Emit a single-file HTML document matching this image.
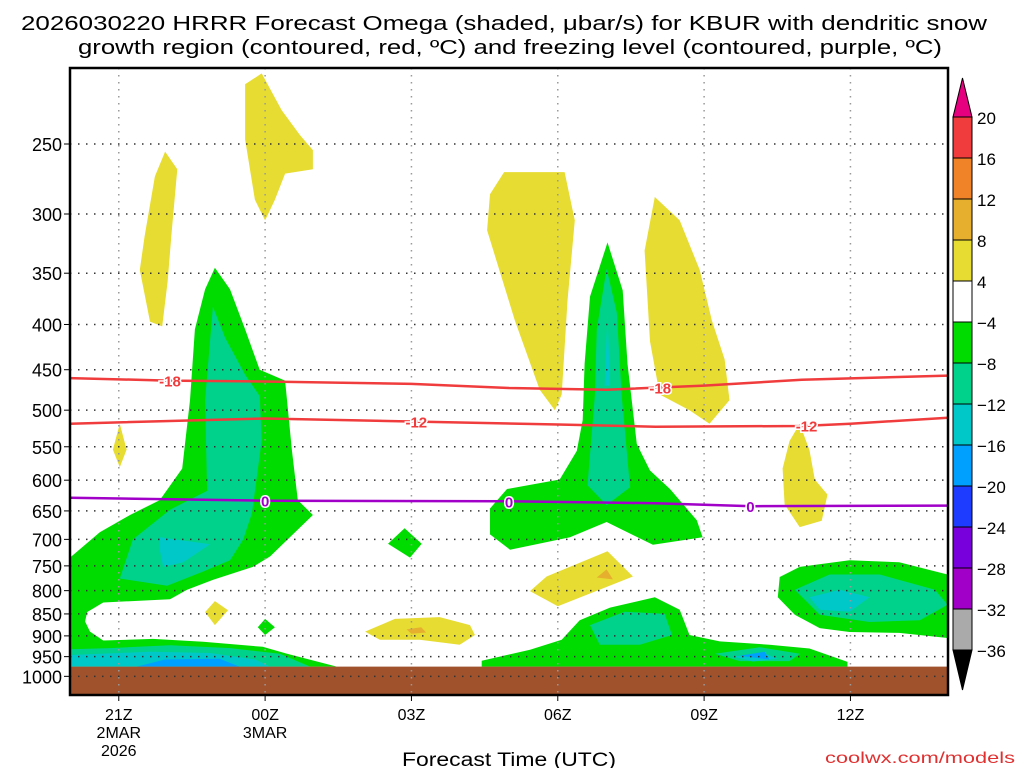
<!DOCTYPE html>
<html><head><meta charset="utf-8"><style>
html,body{margin:0;padding:0;background:#fff;}
svg{display:block;font-family:"Liberation Sans",sans-serif;}
</style></head><body>
<svg id="chart" width="1024" height="768" viewBox="0 0 1024 768" xmlns="http://www.w3.org/2000/svg">
<g font-size="20" text-anchor="middle" fill="#000">
<text x="504" y="30" textLength="966" lengthAdjust="spacingAndGlyphs">2026030220 HRRR Forecast Omega (shaded, μbar/s) for KBUR with dendritic snow</text>
<text x="510" y="54" textLength="864" lengthAdjust="spacingAndGlyphs">growth region (contoured, red, ºC) and freezing level (contoured, purple, ºC)</text>
</g>
<g id="plot"></g>
<g id="axes"></g>
<g id="cbar"></g>
<text x="509" y="766" font-size="19" text-anchor="middle" textLength="214" lengthAdjust="spacingAndGlyphs">Forecast Time (UTC)</text>
<text x="1015" y="763" font-size="16" text-anchor="end" fill="#e03030" textLength="190" lengthAdjust="spacingAndGlyphs">coolwx.com/models</text>
</svg>
<script>
// ---- data (hour since 20Z, pressure hPa) ----
const xTickHours = [1,4,7,10,13,16];
const xTickLabels = ["21Z","00Z","03Z","06Z","09Z","12Z"];
const yTickLevels = [250,300,350,400,450,500,550,600,650,700,750,800,850,900,950,1000];
const cbLevels = [20,16,12,8,4,-4,-8,-12,-16,-20,-24,-28,-32,-36];
const cbColors = ["#f03c3c","#f08228","#e6af2d","#e6dc32","#ffffff","#00dc00","#00d28c","#00c8c8","#00a0ff","#1e3cff","#7800dc","#a000c8","#aaaaaa"];
const terrainP = 975;
const snow18H = [0,2,4,7,9,11,13,15,18];
const snow18P = [460,463,464,467,472,474,469,462,457];
const snow12H = [0,4,7,10,12,15,16,18];
const snow12P = [518,511,515,519,522,521,518,510];
const frzH = [0,4,9,12,14,18];
const frzP = [628,633,634,637,642,641];
const yellowBlobs = [
 [[1.95,255],[2.2,267],[2.08,316],[2.0,358],[1.89,402],[1.64,397],[1.43,347],[1.53,318],[1.74,272]],
 [[3.59,214],[3.93,208],[4.34,229],[4.71,244],[4.98,254],[4.98,267],[4.41,270],[4.2,289],[4.0,305],[3.79,289],[3.59,247]],
 [[8.9,269],[10.14,269],[10.35,305],[10.2,376],[10.08,480],[9.94,500],[9.63,474],[9.12,396],[8.55,313],[8.61,285]],
 [[11.99,287],[12.5,305],[12.91,347],[13.16,396],[13.42,438],[13.52,487],[13.11,518],[12.7,500],[12.09,480],[11.89,418],[11.78,330]],
 [[1.02,518],[1.16,554],[1.02,580],[0.88,554]],
 [[14.96,518],[15.16,555],[15.27,599],[15.53,623],[15.41,667],[14.96,678],[14.65,639],[14.61,582],[14.75,542]],
 [[9.43,801],[10.0,833],[11.54,771],[11.02,722],[9.77,771]],
 [[6.05,890],[6.66,861],[7.58,857],[8.2,875],[8.3,898],[7.99,921],[7.17,909],[6.35,909]],
 [[2.97,822],[3.24,842],[2.97,875],[2.77,846]]
];
const orangeBlobs = [
 [[11.0,757],[11.13,777],[10.8,773]],
 [[6.9,885],[7.2,880],[7.3,892],[7.0,895]]
];
const greenBlobs = [
 [[0,734],[0.61,687],[1.23,657],[1.84,632],[2.30,582],[2.46,487],[2.56,405],[2.77,365],[2.97,345],[3.28,365],[3.59,405],[3.89,450],[4.41,463],[4.55,555],[4.67,632],[4.98,657],[4.10,732],[3.75,752],[2.93,778],[2.40,798],[2.05,818],[0.68,825],[0.35,846],[0.31,867],[0.41,890],[0.68,911],[1.70,907],[2.73,914],[3.95,926],[4.45,943],[5.47,975],[0,975]],
 [[4,861],[4.2,880],[4,898],[3.85,880]],
 [[6.86,680],[7.21,708],[6.97,734],[6.52,708]],
 [[11.02,323],[10.66,372],[10.55,443],[10.51,513],[10.39,556],[10.04,599],[8.96,614],[8.61,646],[8.61,691],[9.02,719],[10.25,696],[11.0,669],[11.95,710],[12.97,696],[12.85,666],[12.30,614],[11.89,585],[11.62,546],[11.43,443],[11.33,366]],
 [[8.44,960],[9.43,933],[10.08,909],[10.45,864],[11.07,836],[11.99,814],[12.5,841],[12.7,898],[13.32,913],[14.34,921],[15.16,930],[15.94,963],[15.94,975],[8.44,975]],
 [[14.55,772],[14.96,752],[15.98,739],[17.0,743],[17.99,767],[17.99,905],[17.0,893],[15.98,891],[15.37,882],[14.86,852],[14.51,814]]
];
const tealBlobs = [
 [[2.93,382],[3.18,414],[3.59,456],[3.89,482],[3.93,541],[3.73,654],[3.55,700],[3.28,739],[2.73,761],[1.99,790],[1.02,775],[1.29,700],[2.05,648],[2.81,617],[2.77,487]],
 [[0,932],[0.82,929],[2.05,922],[3.28,929],[4.30,943],[4.92,975],[0,975]],
 [[11.0,346],[10.8,405],[10.76,482],[10.61,608],[11.0,640],[11.48,611],[11.31,482],[11.21,388]],
 [[10.66,875],[11.37,845],[12.19,850],[12.34,898],[11.68,921],[10.86,921]],
 [[13.22,943],[14.14,927],[14.96,943],[14.75,961],[13.73,961]],
 [[14.86,798],[15.57,767],[16.6,767],[17.73,798],[17.99,830],[17.42,864],[16.39,868],[15.37,852]]
];
const cyanBlobs = [
 [[1.84,696],[2.87,709],[2.32,743],[1.91,752],[1.84,720]],
 [[0,946],[1.64,938],[2.87,941],[3.79,957],[4.10,975],[0,975]],
 [[11.02,391],[11.07,469],[10.96,469]],
 [[15.16,814],[15.78,798],[16.39,814],[15.98,845],[15.37,841]],
 [[13.6,950],[14.2,940],[14.5,955],[14.0,962]]
];
const blueBlobs = [
 [[1.37,975],[1.95,957],[3.07,955],[3.48,975]],
 [[13.73,948],[14.24,938],[14.34,957]]
];
// ---- axes ----
const X0=70, X1=948, Y0=68, Y1=695, HMAX=18;
const PREF=250, YREF=144, PSC=384;
const xs = h => X0 + h*(X1-X0)/HMAX;
const ys = p => YREF + PSC*Math.log(p/PREF);
const NS="http://www.w3.org/2000/svg";
function mk(tag, attrs, parent){const e=document.createElementNS(NS,tag);for(const k in attrs)e.setAttribute(k,attrs[k]);parent.appendChild(e);return e;}
const plot=document.getElementById('plot'), axes=document.getElementById('axes'), cbar=document.getElementById('cbar');
const cp=mk('clipPath',{id:'clip'},plot);
mk('rect',{x:X0,y:Y0,width:X1-X0,height:Y1-Y0},cp);
const g=mk('g',{'clip-path':'url(#clip)'},plot);
function drawSet(set,color,name){set.forEach((pts,i)=>{
 const el=mk('polygon',{points:pts.map(q=>xs(q[0]).toFixed(1)+','+ys(q[1]).toFixed(1)).join(' '),fill:color},g);
 
 
});}
drawSet(yellowBlobs,'#e6dc32','omega-yellow-region');
drawSet(orangeBlobs,'#e6af2d','omega-orange-region');
drawSet(greenBlobs,'#00dc00','omega-green-region');
drawSet(tealBlobs,'#00d28c','omega-teal-region');
drawSet(cyanBlobs,'#00c8c8','omega-cyan-region');
drawSet(blueBlobs,'#00a0ff','omega-blue-region');
const ter=mk('rect',{x:X0,y:ys(terrainP),width:X1-X0,height:Y1-ys(terrainP),fill:'#a0522d'},g);


xTickHours.forEach(h=>{const l=mk('line',{x1:xs(h),x2:xs(h),y1:Y0,y2:Y1,stroke:'#999','stroke-width':1.5,'stroke-dasharray':'1.5,5.5'},g);
 
 });
yTickLevels.forEach(p=>{const l=mk('line',{x1:X0,x2:X1,y1:ys(p),y2:ys(p),stroke:'#333','stroke-width':1.5,'stroke-dasharray':'1.5,6.5'},g);
 
 });
function line(H,P,color,name){const el=mk('polyline',{points:H.map((h,i)=>xs(h).toFixed(1)+','+ys(P[i]).toFixed(1)).join(' '),fill:'none',stroke:color,'stroke-width':2.5},g);
 
 }
line(snow18H,snow18P,'#f03c3c','contour-minus18');
line(snow12H,snow12P,'#f03c3c','contour-minus12');
line(frzH,frzP,'#a000c8','freezing-level');
function interp(H,P,h){for(let i=0;i<H.length-1;i++)if(h>=H[i]&&h<=H[i+1])return P[i]+(P[i+1]-P[i])*(h-H[i])/(H[i+1]-H[i]);return P[0];}
function lab(H,P,h,txt,color){const x=xs(h),y=ys(interp(H,P,h));
 const t=mk('text',{x:x,y:y+6,'text-anchor':'middle','font-size':15,'font-weight':'bold',fill:color,stroke:'#fff','stroke-width':3,'paint-order':'stroke'},g);t.textContent=txt;
 
 }
lab(snow18H,snow18P,2.05,'-18','#f03c3c');lab(snow18H,snow18P,12.1,'-18','#f03c3c');
lab(snow12H,snow12P,7.1,'-12','#f03c3c');lab(snow12H,snow12P,15.1,'-12','#f03c3c');
lab(frzH,frzP,4.0,'0','#a000c8');lab(frzH,frzP,9.0,'0','#a000c8');lab(frzH,frzP,13.95,'0','#a000c8');
mk('rect',{x:X0,y:Y0,width:X1-X0,height:Y1-Y0,fill:'none',stroke:'#000','stroke-width':2.5},axes);
yTickLevels.forEach(p=>{const y=ys(p);mk('line',{x1:X0-6,x2:X0,y1:y,y2:y,stroke:'#000'},axes);
 const t=mk('text',{x:62,y:y+7,'text-anchor':'end','font-size':18},axes);t.textContent=p;
 
 });
xTickHours.forEach((h,i)=>{const x=xs(h);mk('line',{x1:x,x2:x,y1:Y1,y2:Y1+6,stroke:'#000'},axes);
 const t=mk('text',{x:x,y:720,'text-anchor':'middle','font-size':16},axes);t.textContent=xTickLabels[i];
 
 });
[["2MAR",1,738],["2026",1,756],["3MAR",4,738]].forEach(d=>{const t=mk('text',{x:xs(d[1]),y:d[2],'text-anchor':'middle','font-size':16},axes);t.textContent=d[0];
 
 });
const CX=953, CW=19, CTOP=117, CSTEP=41;
const tri1=mk('polygon',{points:`${CX},${CTOP} ${CX+CW},${CTOP} ${CX+CW/2},78`,fill:'#e6007f',stroke:'#000'},cbar);


cbColors.forEach((c,i)=>{const r=mk('rect',{x:CX,y:CTOP+i*CSTEP,width:CW,height:CSTEP,fill:c,stroke:'#000'},cbar);
 
 });
const yb=CTOP+cbColors.length*CSTEP;
const tri2=mk('polygon',{points:`${CX},${yb} ${CX+CW},${yb} ${CX+CW/2},${yb+40}`,fill:'#000',stroke:'#000'},cbar);


cbLevels.forEach((v,i)=>{const t=mk('text',{x:977,y:CTOP+i*CSTEP+7,'font-size':17},cbar);t.textContent=v<0?'\u2212'+(-v):v;
 
 });
</script>
</body></html>
